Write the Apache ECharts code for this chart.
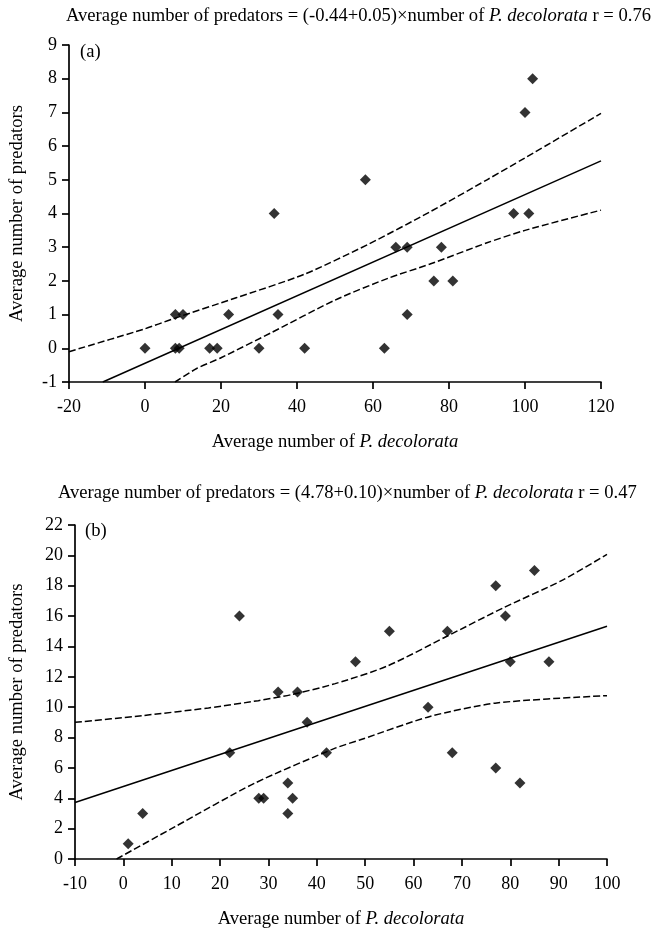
<!DOCTYPE html>
<html lang="en">
<head>
	<meta charset="UTF-8">
	<title>Predators vs P. decolorata</title>
	<script src="https://cdn.jsdelivr.net/npm/echarts@6/dist/echarts.min.js"></script>
	<style>
		* {
			margin: 0;
			padding: 0;
		}

		#container {
			width: 657px;
			height: 930px;
		}
	</style>
</head>
<body>
<div id="container"></div>
<script type="text/javascript">
	// panel (a)
	var decoA = [0, 8, 10, 8, 9, 17, 19, 22, 30, 34, 35, 42, 58, 66, 69, 78, 76, 81, 69, 63, 97, 101, 102, 100];
	var predA = [0, 1, 1, 0, 0, 0, 0, 1, 0, 4, 1, 0, 5, 3, 3, 3, 2, 2, 1, 0, 4, 4, 8, 7];
	var fitA = [[-11.1, -1], [120, 5.56]];
	var upperA = [[-20, -0.1], [0, 0.58], [7, 0.86], [24, 1.5], [42, 2.2], [59, 3.1], [75, 4.05], [90, 5.0], [100, 5.65], [120, 6.97]];
	var lowerA = [[7.9, -1], [13.6, -0.6], [20, -0.28], [33, 0.45], [50, 1.43], [64, 2.08], [75, 2.5], [90, 3.13], [100, 3.5], [120, 4.1]];
	var xAxisA = [-20, 120, 20]; // min, max, step
	var yAxisA = [-1, 9, 1];

	// panel (b)
	var decoB = [1, 4, 22, 24, 28, 29, 32, 34, 34, 35, 36, 38, 42, 48, 55, 63, 67, 68, 77, 77, 79, 80, 82, 85, 88];
	var predB = [1, 3, 7, 16, 4, 4, 11, 5, 3, 4, 11, 9, 7, 13, 15, 10, 15, 7, 18, 6, 16, 13, 5, 19, 13];
	var fitB = [[-10, 3.72], [100, 15.33]];
	var upperB = [[-10, 9.0], [3.8, 9.44], [17.6, 9.95], [27.9, 10.43], [34.8, 10.83], [43.8, 11.55], [54.5, 12.7], [66.9, 14.67], [78.6, 16.55], [91, 18.4], [100, 20.07]];
	var lowerB = [[-1.4, 0], [10.7, 2.13], [27.2, 5.0], [43.8, 7.3], [49, 7.85], [63.4, 9.39], [77.2, 10.28], [100, 10.76]];
	var xAxisB = [-10, 100, 10];
	var yAxisB = [0, 22, 2];

	var titleA = 'Average number of predators = (-0.44+0.05)×number of {i|P. decolorata} r = 0.76';
	var titleB = 'Average number of predators = (4.78+0.10)×number of {i|P. decolorata} r = 0.47';
	var xName = 'Average number of {i|P. decolorata}';
	var yName = 'Average number of predators';

	var font = 'Liberation Serif';
	var rich = {i: {fontFamily: font, fontSize: 18.6, fontStyle: 'italic', color: '#000'}};

	function pairs(xs, ys) {
		return xs.map(function (x, i) {
			return [x, ys[i]];
		});
	}

	function xAxis(idx, range) {
		return {
			type: 'value',
			gridIndex: idx,
			min: range[0],
			max: range[1],
			interval: range[2],
			name: xName,
			nameLocation: 'middle',
			nameGap: 51,
			nameTextStyle: {fontFamily: font, fontSize: 18.6, color: '#000', rich: rich},
			axisLine: {onZero: false, lineStyle: {color: '#000', width: 1.7}},
			axisTick: {length: 7, lineStyle: {color: '#000', width: 1.7}},
			axisLabel: {margin: 16, fontFamily: font, fontSize: 18, color: '#000'},
			splitLine: {show: false}
		};
	}

	function yAxis(idx, range, gap) {
		return {
			type: 'value',
			gridIndex: idx,
			min: range[0],
			max: range[1],
			interval: range[2],
			name: yName,
			nameLocation: 'middle',
			nameGap: gap,
			nameTextStyle: {fontFamily: font, fontSize: 18.6, color: '#000'},
			axisLine: {show: true, onZero: false, lineStyle: {color: '#000', width: 1.7}},
			axisTick: {show: true, length: 7, lineStyle: {color: '#000', width: 1.7}},
			axisLabel: {margin: 12, fontFamily: font, fontSize: 18, color: '#000'},
			splitLine: {show: false}
		};
	}

	function scatter(idx, data) {
		return {
			type: 'scatter',
			xAxisIndex: idx,
			yAxisIndex: idx,
			symbol: 'diamond',
			symbolSize: 11,
			itemStyle: {color: '#000'},
			data: data
		};
	}

	function line(idx, data, dashed) {
		return {
			type: 'line',
			xAxisIndex: idx,
			yAxisIndex: idx,
			smooth: dashed ? 0.25 : false,
			symbol: 'none',
			lineStyle: {color: '#000', width: 1.5, type: dashed ? [7, 3] : 'solid'},
			data: data
		};
	}

	var myChart = echarts.init(document.getElementById('container'));

	var option = {
		animation: false,
		backgroundColor: '#fff',
		title: [
			{text: titleA, left: 66, top: 7, padding: 0, textStyle: {fontFamily: font, fontSize: 18.6, fontWeight: 'normal', color: '#000', rich: rich}},
			{text: titleB, left: 58, top: 484, padding: 0, textStyle: {fontFamily: font, fontSize: 18.6, fontWeight: 'normal', color: '#000', rich: rich}},
			{text: '(a)', left: 80, top: 43, padding: 0, textStyle: {fontFamily: font, fontSize: 18.6, fontWeight: 'normal', color: '#000'}},
			{text: '(b)', left: 85, top: 522, padding: 0, textStyle: {fontFamily: font, fontSize: 18.6, fontWeight: 'normal', color: '#000'}}
		],
		grid: [
			{left: 69, top: 45, width: 532, height: 337},
			{left: 75, top: 525, width: 532, height: 334}
		],
		xAxis: [xAxis(0, xAxisA), xAxis(1, xAxisB)],
		yAxis: [yAxis(0, yAxisA, 42), yAxis(1, yAxisB, 48)],
		series: [
			line(0, fitA, false),
			line(0, upperA, true),
			line(0, lowerA, true),
			scatter(0, pairs(decoA, predA)),
			line(1, fitB, false),
			line(1, upperB, true),
			line(1, lowerB, true),
			scatter(1, pairs(decoB, predB))
		]
	};

	myChart.setOption(option);
</script>
</body>
</html>
